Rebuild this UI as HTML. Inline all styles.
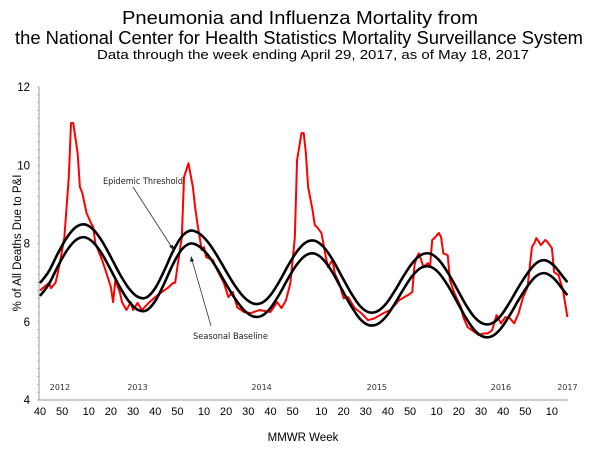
<!DOCTYPE html>
<html><head><meta charset="utf-8"><style>
html,body{margin:0;padding:0;background:#fff;}
svg{display:block;font-family:"Liberation Sans",Arial,sans-serif;}
</style></head><body>
<svg id="chart" width="600" height="450" viewBox="0 0 600 450" xmlns="http://www.w3.org/2000/svg">
<g>
<text x="300" y="24" font-size="18" text-anchor="middle" textLength="356" lengthAdjust="spacingAndGlyphs">Pneumonia and Influenza Mortality from</text>
<text x="299" y="44" font-size="18" text-anchor="middle" textLength="568" lengthAdjust="spacingAndGlyphs">the National Center for Health Statistics Mortality Surveillance System</text>
<text x="313" y="59" font-size="13" text-anchor="middle" textLength="432" lengthAdjust="spacingAndGlyphs">Data through the week ending April 29, 2017, as of May 18, 2017</text>
</g>
<text transform="translate(21,243) rotate(-90)" font-size="11.5" text-anchor="middle">% of All Deaths Due to P&amp;I</text>
<text x="303" y="441" font-size="11.5" text-anchor="middle">MMWR Week</text>
<g id="axes"></g>
<g id="series"></g>
<g font-family="'DejaVu Sans',sans-serif" font-size="8.5" fill="#222">
<text x="103" y="184" textLength="80" lengthAdjust="spacingAndGlyphs">Epidemic Threshold</text>
<line x1="133" y1="187" x2="173" y2="249" stroke="#333" stroke-width="0.8"/>
<polygon points="175,252 169,246 173,245" fill="#222"/>
<text x="193" y="339" textLength="75" lengthAdjust="spacingAndGlyphs">Seasonal Baseline</text>
<line x1="211" y1="326" x2="192" y2="260" stroke="#333" stroke-width="0.8"/>
<polygon points="191,256 190,262 194,261" fill="#222"/>
</g>
</svg>
<script>
// ---- data ----
const yearWeeks = [52, 52, 53, 52, 52, 52];
const yearNames = ["2012", "2013", "2014", "2015", "2016", "2017"];
const yearLabelWeekIdx = [9, 44, 100, 152, 208, 238];
const yTicks = [4, 6, 8, 10, 12];
const baseWeeks = [0,4,8,12,16,20,24,28,32,36,40,44,48,52,56,60,64,68,72,76,80,84,88,92,96,100,104,108,112,116,120,124,128,132,136,140,144,148,152,156,160,164,168,172,176,180,184,188,192,196,200,204,208,212,216,220,224,228,232,236,238];
const baselineVals = [6.66,6.96,7.41,7.81,8.08,8.16,8.03,7.73,7.32,6.89,6.53,6.31,6.29,6.53,6.97,7.47,7.85,8.0,7.92,7.69,7.35,6.96,6.59,6.30,6.14,6.15,6.35,6.70,7.11,7.47,7.70,7.74,7.58,7.26,6.85,6.44,6.10,5.92,5.93,6.12,6.45,6.83,7.17,7.38,7.41,7.25,6.93,6.53,6.12,5.79,5.62,5.63,5.83,6.17,6.56,6.91,7.17,7.24,7.10,6.82,6.68];
const thresholdVals = [6.99,7.29,7.74,8.14,8.41,8.49,8.36,8.06,7.65,7.22,6.86,6.64,6.62,6.86,7.30,7.80,8.18,8.33,8.25,8.02,7.68,7.29,6.92,6.63,6.47,6.48,6.68,7.03,7.44,7.80,8.03,8.07,7.91,7.59,7.18,6.77,6.43,6.25,6.26,6.45,6.78,7.16,7.50,7.71,7.74,7.58,7.26,6.86,6.45,6.12,5.95,5.96,6.16,6.50,6.89,7.24,7.50,7.57,7.43,7.15,7.01];
const piWeeks = [0,4,5,7,8,9,11,13,14,15,17,18,19,21,23,24,25,28,30,32,33,34,36,37,39,41,42,44,46,49,52,55,58,60,61,62,64,65,67,69,70,71,73,74,75,78,80,83,85,87,89,92,95,99,104,107,109,111,113,115,116,118,119,120,121,123,124,125,127,129,130,132,133,135,137,139,142,145,148,151,155,158,160,162,166,168,169,170,171,173,175,176,177,178,180,181,182,184,185,187,190,191,193,195,198,200,202,204,206,208,210,212,214,216,218,220,222,223,224,226,228,229,231,232,234,236,238];
const piVals = [6.8,6.99,6.86,7.0,7.24,7.52,8.16,9.7,11.08,11.08,10.3,9.44,9.31,8.78,8.52,8.42,8.0,7.58,7.24,6.88,6.5,7.06,6.76,6.5,6.3,6.5,6.3,6.48,6.3,6.48,6.63,6.76,6.88,6.99,7.0,7.4,8.16,9.7,10.05,9.44,8.93,8.52,7.83,7.91,7.65,7.58,7.32,6.99,6.63,6.76,6.37,6.25,6.22,6.3,6.25,6.5,6.35,6.55,6.99,8.16,10.13,10.82,10.82,10.3,9.44,8.85,8.47,8.42,8.27,7.65,7.4,7.58,7.24,6.99,6.6,6.63,6.35,6.22,6.04,6.09,6.22,6.3,6.42,6.55,6.68,6.76,7.45,7.65,7.75,7.4,7.5,7.4,8.09,8.14,8.27,8.16,7.75,7.7,7.06,6.73,6.37,6.12,5.86,5.78,5.66,5.7,5.7,5.78,6.17,5.96,6.12,6.09,5.96,6.22,6.63,6.88,7.91,8.0,8.14,7.96,8.09,8.04,7.88,7.27,7.19,6.81,6.12];

// ---- scales ----
const X0 = 40, XPW = 2.216, YTOP = 87, YBOT = 400, YMIN = 4, YMAX = 12;
const xs = i => X0 + i * XPW;
const ys = v => YBOT - (v - YMIN) / (YMAX - YMIN) * (YBOT - YTOP);
const NS = "http://www.w3.org/2000/svg";
const axes = document.getElementById('axes');
const series = document.getElementById('series');
function mk(tag, attrs, parent) {
  const e = document.createElementNS(NS, tag);
  for (const k in attrs) e.setAttribute(k, attrs[k]);
  parent.appendChild(e);
  return e;
}
const yAxis = mk('line', {x1: 39, y1: YTOP, x2: 39, y2: YBOT, stroke: '#999', 'stroke-width': 1}, axes);


const xAxis = mk('line', {x1: 39, y1: YBOT, x2: 568, y2: YBOT, stroke: '#999', 'stroke-width': 1}, axes);


for (let v = YMIN; v <= YMAX + 0.001; v += 0.2) {
  const t = mk('line', {x1: 37, y1: ys(v), x2: 39, y2: ys(v), stroke: '#aaa', 'stroke-width': 0.8}, axes);
  
  
}
yTicks.forEach(v => {
  const t = mk('text', {x: 30, y: ys(v) + 4, 'font-size': 11.5, 'text-anchor': 'end'}, axes);
  t.textContent = v;
  
  
});
let idx = 0;
for (let y = 0; y < yearWeeks.length; y++) {
  const startWeek = y === 0 ? 40 : 1;
  for (let w = startWeek; w <= yearWeeks[y]; w++) {
    if (idx > 238) break;
    if (w % 10 === 0) {
      const t = mk('text', {x: xs(idx), y: 415, 'font-size': 11, 'text-anchor': 'middle'}, axes);
      t.textContent = w;
      
      
    }
    idx++;
  }
}
yearNames.forEach((n, k) => {
  const t = mk('text', {x: xs(yearLabelWeekIdx[k]), y: 390, 'font-size': 8, 'text-anchor': 'middle', 'font-family': "'DejaVu Sans',sans-serif", fill: '#333'}, axes);
  t.textContent = n;
  
  
});
function smooth(wk, vals) {
  const p = wk.map((w, i) => [xs(w), ys(vals[i])]);
  let d = 'M' + p[0][0] + ',' + p[0][1];
  for (let i = 0; i < p.length - 1; i++) {
    const p0 = p[i - 1] || p[i], p1 = p[i], p2 = p[i + 1], p3 = p[i + 2] || p2;
    const c1 = [p1[0] + (p2[0] - p0[0]) / 6, p1[1] + (p2[1] - p0[1]) / 6];
    const c2 = [p2[0] - (p3[0] - p1[0]) / 6, p2[1] - (p3[1] - p1[1]) / 6];
    d += ' C' + c1.join(',') + ' ' + c2.join(',') + ' ' + p2.join(',');
  }
  return d;
}
const piPath = mk('path', {d: 'M' + piWeeks.map((w, i) => xs(w) + ',' + ys(piVals[i])).join(' L'), fill: 'none', stroke: '#ff0000', 'stroke-width': 2, 'stroke-linejoin': 'round'}, series);


const thrPath = mk('path', {d: smooth(baseWeeks, thresholdVals), fill: 'none', stroke: '#000', 'stroke-width': 2.6}, series);


const basePath = mk('path', {d: smooth(baseWeeks, baselineVals), fill: 'none', stroke: '#000', 'stroke-width': 2.6}, series);


</script>
</body></html>
